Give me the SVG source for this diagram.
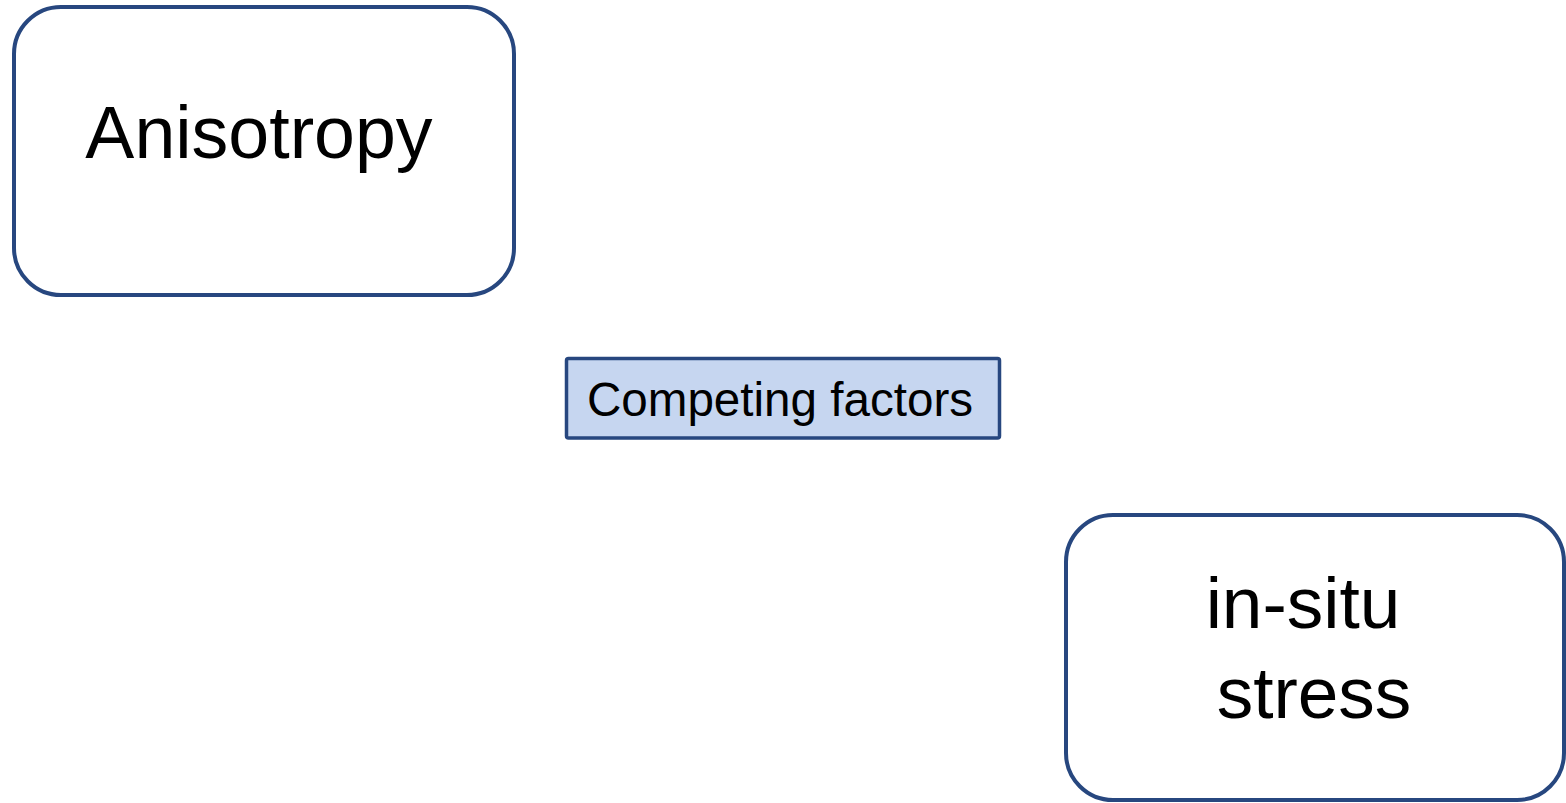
<svg xmlns="http://www.w3.org/2000/svg" width="1566" height="803" viewBox="0 0 1566 803">
<style>
.node{fill:#ffffff;stroke:#27477f;stroke-width:4}
.lbl{fill:#c6d6f0;stroke:#27477f;stroke-width:3.5}
.t{font-family:"Liberation Sans",Arial,sans-serif;fill:#000000;text-anchor:middle}
</style>
<rect width="1566" height="803" fill="#ffffff"/>
<g id="connectors"></g>
<g id="anisotropy">
<rect class="node" x="14" y="7" width="500" height="288" rx="47" ry="47"/>
<text class="t" x="259" y="158" font-size="73.5">Anisotropy</text>
</g>
<g id="competing-factors">
<rect class="lbl" x="566.5" y="358.5" width="433" height="79.5" rx="2"/>
<text class="t" x="780" y="416" font-size="47.6">Competing factors</text>
</g>
<g id="in-situ-stress">
<rect class="node" x="1066" y="515" width="498" height="285" rx="47" ry="47"/>
<text class="t" x="1303" y="628" font-size="73">in-situ</text>
<text class="t" x="1314" y="718" font-size="73">stress</text>
</g>
</svg>
